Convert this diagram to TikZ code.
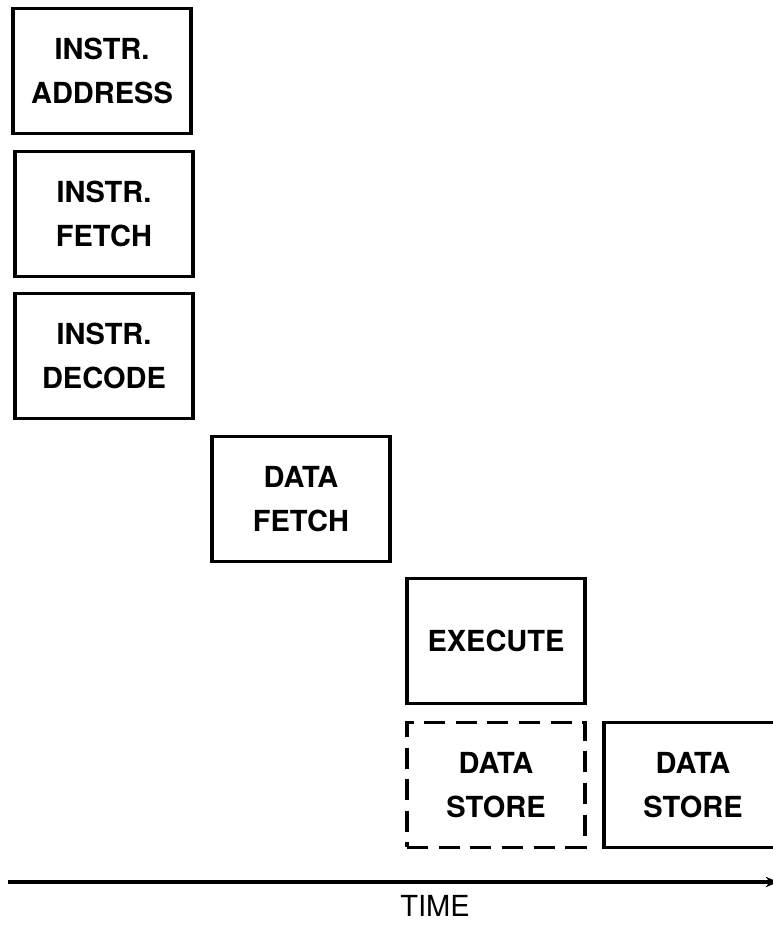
\documentclass[tikz,border=0pt]{standalone}
\usepackage{fontspec}
\setmainfont{TeX Gyre Heros}
\usetikzlibrary{positioning,arrows.meta}

\begin{document}
\begin{tikzpicture}[
    x=0.02cm,y=-0.02cm,
    stage/.style={draw,line width=2.1pt,minimum width=3.56cm,minimum height=2.5cm,
      align=center,font=\fontsize{16.5}{25}\selectfont\bfseries,anchor=center},
    maybe/.style={stage,dash pattern=on 12pt off 6pt},
]
\clip (0,0) rectangle (773,942);
\node[stage] (iaddr)  at (102,71)  {INSTR.\\ADDRESS};
\node[stage] (ifetch) at (104,214) {INSTR.\\FETCH};
\node[stage] (idec)   at (104,356) {INSTR.\\DECODE};
\node[stage] (dfetch) at (301,499) {DATA\\FETCH};
\node[stage] (exec)   at (496,641) {EXECUTE};
\node[maybe] (dstore) at (496,785) {DATA\\STORE};
\node[stage] (dstore2) at (693,785) {DATA\\STORE};
% time axis
\coordinate (t0) at (8,882);
\coordinate (t1) at (778,882);
\draw[line width=2.1pt,-{Stealth[length=7pt,width=6pt]}] (t0) -- (t1);
\node[font=\fontsize{16.5}{20}\selectfont] (time) at (435,906) {TIME};
\end{tikzpicture}
\end{document}
